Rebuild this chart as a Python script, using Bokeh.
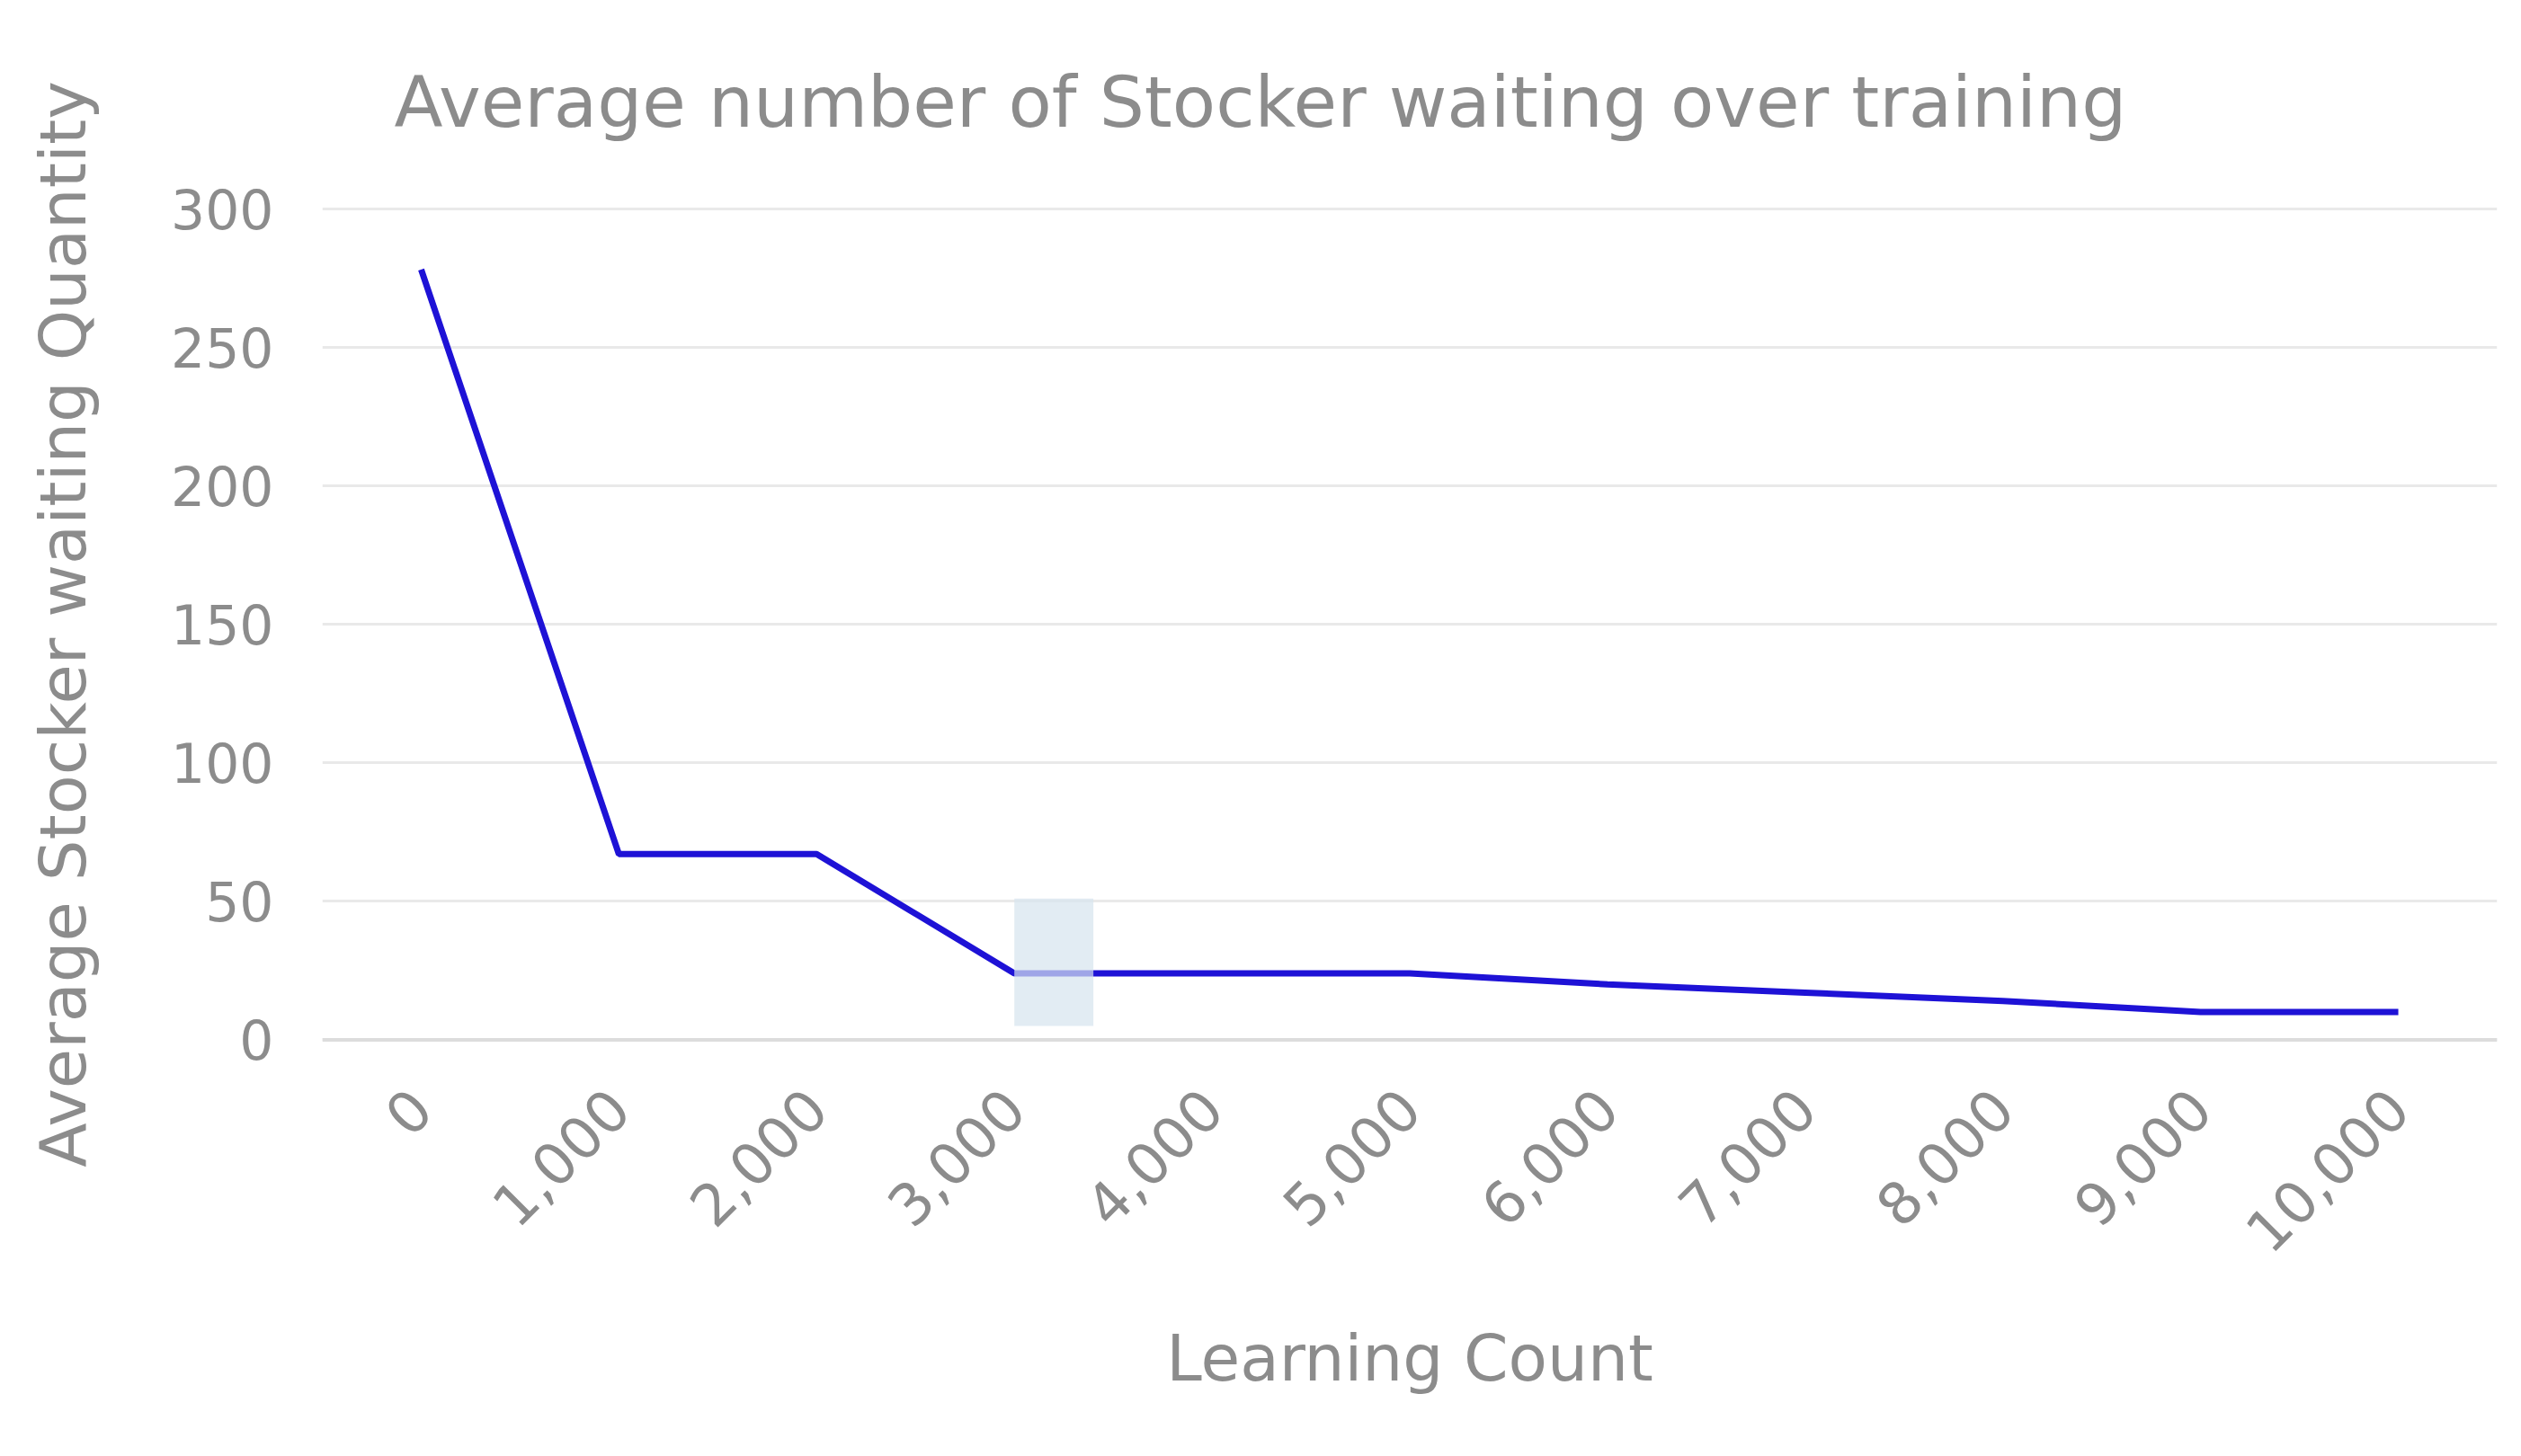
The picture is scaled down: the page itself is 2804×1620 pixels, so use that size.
from bokeh.plotting import figure
from bokeh.models import FixedTicker, NumeralTickFormatter, Range1d, BoxAnnotation, Span
from bokeh.embed import file_html
from bokeh.resources import INLINE
import math

# data
learning_count = [0, 1000, 2000, 3000, 4000, 5000, 6000, 7000, 8000, 9000, 10000]
avg_waiting = [278, 67, 67, 24, 24, 24, 20, 17, 14, 10, 10]
y_ticks = [0, 50, 100, 150, 200, 250, 300]
highlight_x = [3000, 3400]
highlight_y = [5, 51]

TITLE = "Average number of Stocker waiting over training"
X_LABEL = "Learning Count"
Y_LABEL = "Average Stocker waiting Quantity"

FONT = "DejaVu Sans"
GREY = "#8c8c8c"

p = figure(frame_width=2419, frame_height=934, output_backend="svg", toolbar_location=None,
           x_range=Range1d(-500, 10500), y_range=Range1d(-1.5, 301.5),
           min_border_left=358, min_border_right=10, min_border_top=227, min_border_bottom=440,
           title=TITLE)

p.title.align = "left"
p.title.vertical_align = "top"
p.title.offset = 80
p.title.text_font = FONT
p.title.text_font_style = "normal"
p.title.text_font_size = "79px"
p.title.text_color = GREY
p.title.standoff = 132

p.outline_line_color = None
p.background_fill_color = "white"
p.border_fill_color = "white"

p.add_layout(BoxAnnotation(left=highlight_x[0], right=highlight_x[1],
                           bottom=highlight_y[0], top=highlight_y[1],
                           fill_color="#d6e4ee", fill_alpha=0.7, line_color=None))
p.add_layout(Span(location=y_ticks[0], dimension="width", line_color="#dcdcdc", line_width=4))

p.line(learning_count, avg_waiting, line_color="#1e12d6", line_width=7)

# x axis
p.xaxis.ticker = FixedTicker(ticks=learning_count)
p.xaxis.formatter = NumeralTickFormatter(format="0,0")
p.xaxis.major_label_orientation = math.pi / 4
p.xaxis.axis_line_color = None
p.xaxis.major_tick_line_color = None
p.xaxis.minor_tick_line_color = None
p.xaxis.major_label_text_font = FONT
p.xaxis.major_label_text_font_size = "64px"
p.xaxis.major_label_text_color = GREY
p.xaxis.major_label_standoff = 55
p.xaxis.axis_label = X_LABEL
p.xaxis.axis_label_text_font = FONT
p.xaxis.axis_label_text_font_style = "normal"
p.xaxis.axis_label_text_font_size = "71px"
p.xaxis.axis_label_text_color = GREY
p.xaxis.axis_label_standoff = 53

# y axis
p.yaxis.ticker = FixedTicker(ticks=y_ticks)
p.yaxis.axis_line_color = None
p.yaxis.major_tick_line_color = None
p.yaxis.minor_tick_line_color = None
p.yaxis.major_label_text_font = FONT
p.yaxis.major_label_text_font_size = "60px"
p.yaxis.major_label_text_color = GREY
p.yaxis.major_label_standoff = 48
p.yaxis.axis_label = Y_LABEL
p.yaxis.axis_label_text_font = FONT
p.yaxis.axis_label_text_font_style = "normal"
p.yaxis.axis_label_text_font_size = "72px"
p.yaxis.axis_label_text_color = GREY
p.yaxis.axis_label_standoff = 75

p.xgrid.grid_line_color = None
p.ygrid.grid_line_color = "#e9e9e9"
p.ygrid.grid_line_width = 3

open("out.html", "w").write(file_html(p, INLINE))
